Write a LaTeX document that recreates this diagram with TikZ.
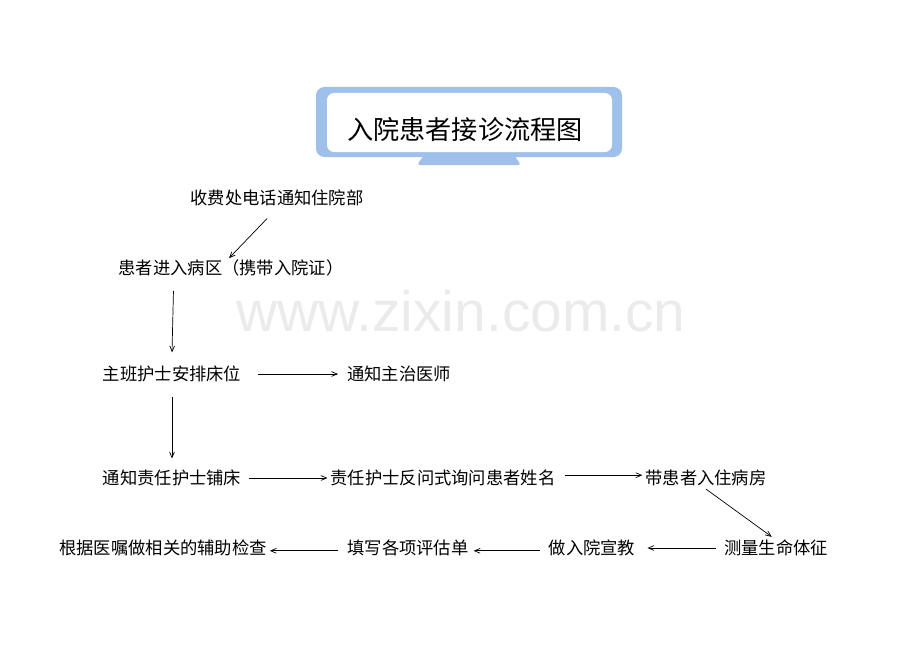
\documentclass[tikz,border=0pt]{standalone}
\usepackage{fontspec}
\setmainfont{Noto Sans CJK SC}
\newfontfamily\wmfont{Liberation Sans}
\usepackage{tikz}
\usetikzlibrary{shapes.geometric, arrows}
\definecolor{titleblue}{RGB}{158,192,234}
\tikzstyle{stepbox} = [rectangle, inner sep=2pt, text centered, font=\fontsize{12.3pt}{14pt}\selectfont]
\tikzstyle{arrow} = [line width=0.5pt,->,>=angle 45]

\begin{document}
\begin{tikzpicture}[x=0.025cm,y=-0.025cm]
            \useasboundingbox (0,0) rectangle (920,650);
            % title frame
            \fill [titleblue, rounded corners=6pt] (316,87) rectangle (622,157);
            \fill [titleblue, rounded corners=2pt] (424,155) -- (514,155) -- (521,165) -- (417,165) -- cycle;
            \fill [white, rounded corners=5pt] (327,93) rectangle (612,152);
            \node [font=\fontsize{18.6pt}{22pt}\selectfont] at (465,129) (title) {入院患者接诊流程图};
            % watermark
            \node [text=gray!16, font=\wmfont\fontsize{40.5pt}{44pt}\selectfont] at (461,311) (mark) {www.zixin.com.cn};
            \node [stepbox] at (277,198) (call) {收费处电话通知住院部};
            \node [stepbox] at (231,268) (enter) {患者进入病区（携带入院证）};
            \node [stepbox] at (172,374) (bed) {主班护士安排床位};
            \node [stepbox] at (399,374) (doctor) {通知主治医师};
            \node [stepbox] at (172,478) (nurse) {通知责任护士铺床};
            \node [stepbox] at (443,478) (ask) {责任护士反问式询问患者姓名};
            \node [stepbox] at (706,478) (ward) {带患者入住病房};
            \node [stepbox] at (776,548) (vital) {测量生命体征};
            \node [stepbox] at (592,548) (teach) {做入院宣教};
            \node [stepbox] at (408,548) (forms) {填写各项评估单};
            \node [stepbox] at (163,548) (exam) {根据医嘱做相关的辅助检查};
            \draw [arrow] ([shift={(-10,9.5)}]call.south) -- ([shift={(-2,1.5)}]enter.north);
            \draw [arrow] ([shift={(58,11.5)}]enter.south west) -- ([shift={(0,-10.5)}]bed.north);
            \draw [arrow, shorten <=10pt, shorten >=4.3pt] (bed) -- (doctor);
            \draw [arrow, shorten <=8.2pt, shorten >=6pt] (bed) -- (nurse);
            \draw [arrow, shorten <=3pt] (nurse) -- (ask);
            \draw [arrow, shorten <=4.4pt] ([yshift=2]ask.east) -- ([yshift=2]ward.west);
            \draw [arrow] (ward.south) -- ([xshift=-3]vital.north);
            \draw [arrow, shorten <=3.6pt, shorten >=6.5pt] (vital) -- (teach);
            \draw [arrow, shorten <=4.3pt, shorten >=1.4pt] ([yshift=-2]teach.west) -- ([yshift=-2]forms.east);
            \draw [arrow, shorten <=4.3pt] ([yshift=-2]forms.west) -- ([yshift=-2]exam.east);
            \end{tikzpicture}
\end{document}
